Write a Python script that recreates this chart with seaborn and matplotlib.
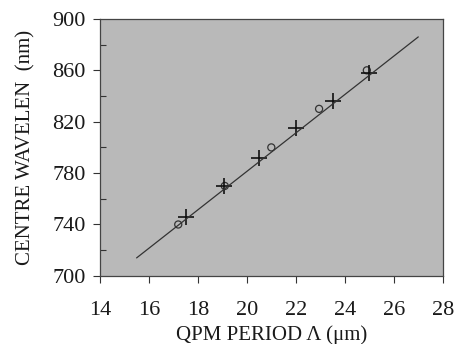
import numpy as np
import pandas as pd
import seaborn as sns
import matplotlib
matplotlib.use("Agg")
import matplotlib.pyplot as plt

# measured points (crosses)
period_cross = [17.5, 19.05, 20.5, 22.0, 23.5, 25.0]
wl_cross = [746, 770, 792, 815, 836, 858]

# second data set (circles)
period_circ = [17.2, 19.1, 21.0, 22.95, 24.9]
wl_circ = [740, 770, 800, 830, 860]

# fitted line end points
period_fit = [15.5, 27.0]
wl_fit = [714, 886]

x_ticks = [14, 16, 18, 20, 22, 24, 26, 28]
y_ticks = [700, 740, 780, 820, 860, 900]


def main():
    sns.set_style("ticks")
    plt.rcParams['font.family'] = ['Liberation Serif', 'DejaVu Serif']
    plt.rcParams['mathtext.fontset'] = 'stix'

    fig = plt.figure(figsize=(4.56, 3.44), dpi=100)
    ax = fig.add_axes([0.219, 0.198, 0.752, 0.747])
    ax.set_facecolor('#b9b9b9')

    fit = pd.DataFrame({'x': period_fit, 'y': wl_fit})
    sns.lineplot(data=fit, x='x', y='y', ax=ax, color='#333333', linewidth=0.9)

    circ = pd.DataFrame({'x': period_circ, 'y': wl_circ})
    sns.scatterplot(data=circ, x='x', y='y', ax=ax, marker='o', s=26,
                    facecolor='none', edgecolor='#333333', linewidth=0.9)

    cross = pd.DataFrame({'x': period_cross, 'y': wl_cross})
    sns.scatterplot(data=cross, x='x', y='y', ax=ax, marker='+', s=130,
                    color='#111111', linewidth=1.2)

    ax.set_xlim(14, 28)
    ax.set_ylim(700, 900)
    ax.set_xticks(x_ticks)
    ax.set_yticks(y_ticks)
    ax.set_yticks([720, 760, 800, 840, 880], minor=True)
    ax.tick_params(axis='both', which='major', labelsize=16, color='#333333',
                   labelcolor='#1a1a1a', direction='out', length=5, width=0.8,
                   pad=5)
    ax.tick_params(axis='x', which='major', pad=13)
    ax.tick_params(axis='y', which='minor', direction='in', length=4, width=0.8,
                   color='#333333')
    for sp in ax.spines.values():
        sp.set_visible(True)
        sp.set_color('#444444')
        sp.set_linewidth(0.9)

    ax.set_xlabel(u'QPM PERIOD \u039b (\u03bcm)', fontsize=15, labelpad=4,
                  color='#1a1a1a')
    ax.set_ylabel('CENTRE WAVELEN  (nm)', fontsize=15, labelpad=12,
                  color='#1a1a1a')

    fig.savefig('out.png', dpi=100)


if __name__ == "__main__":
    main()
